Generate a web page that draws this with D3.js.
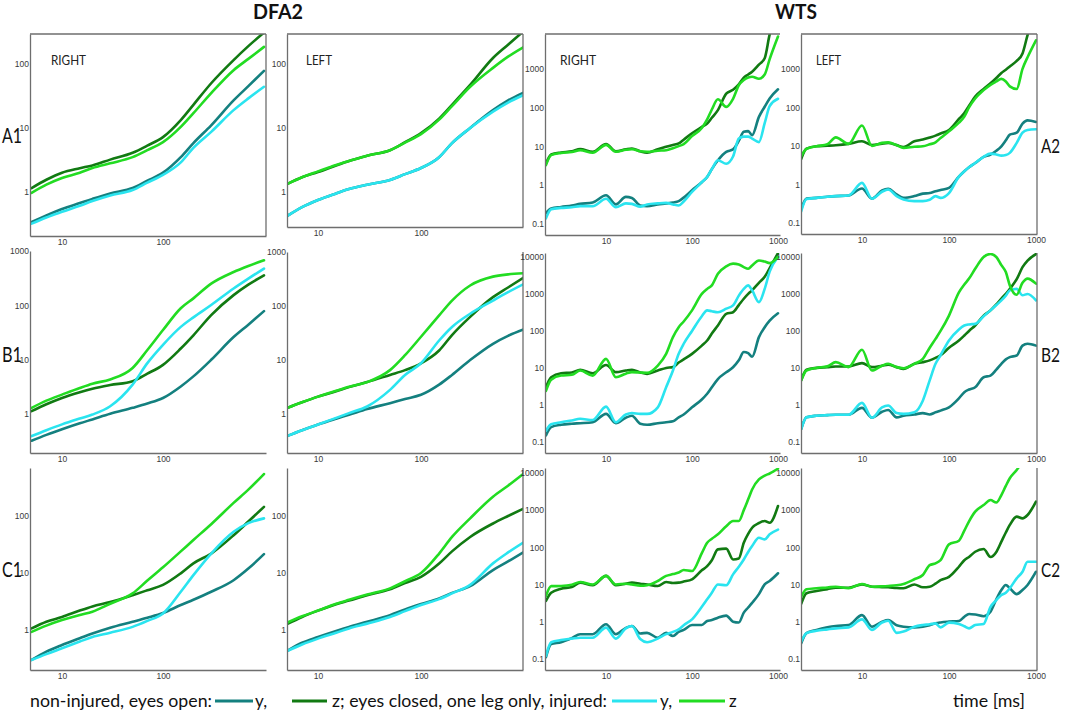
<!DOCTYPE html>
<html><head><meta charset="utf-8">
<script src="https://cdn.jsdelivr.net/npm/d3@7"></script>
<style>body{margin:0;background:#fff}</style></head>
<body><svg id="c" width="1065" height="716"></svg>
<script>
// ---------- DATA ----------
const dfaX = [5,7,10,15,20,30,50,70,100,150,200,300,500,700,1000];
const wtsX = [2,2.3,3,4,5,7,10,13,17,20,25,30,40,50,60,70,80,100,130,150,170,200,250,300,350,400,450,500,600,700,800,1000];

// DFA2 RIGHT / LEFT, rows A,B,C
const dfaA_R_y_non = [0.34,0.43,0.54,0.67,0.78,0.95,1.15,1.5,2.0,3.5,5.8,11,27,45,78];
const dfaA_R_z_non = [1.15,1.55,2.0,2.35,2.6,3.2,4.1,5.3,7.2,13.3,23,50,115,190,310];
const dfaA_R_y_inj = [0.32,0.4,0.49,0.61,0.72,0.88,1.07,1.4,1.85,2.9,4.9,8.7,19,29,44];
const dfaA_R_z_inj = [0.97,1.3,1.65,2.0,2.37,2.8,3.5,4.5,6.0,10.4,17,35,80,120,185];

const dfaA_L_y_non = [0.42,0.58,0.75,0.95,1.11,1.3,1.54,1.9,2.37,3.5,5.8,10,19,27,36];
const dfaA_L_z_non = [1.33,1.7,2.05,2.6,3.05,3.7,4.5,6,8.3,14,23,47,124,200,330];
const dfaA_L_y_inj = [0.42,0.58,0.75,0.95,1.11,1.3,1.54,1.9,2.37,3.5,5.8,10,18,25,33];
const dfaA_L_z_inj = [1.33,1.7,2.1,2.65,3.05,3.7,4.5,5.9,8.0,13.5,22,44,87,130,185];

const dfaB_R_y_non = [0.32,0.41,0.52,0.67,0.79,1.0,1.29,1.55,1.96,3.2,4.9,9.9,26,44,78];
const dfaB_R_z_non = [1.12,1.5,1.96,2.5,2.9,3.4,4.0,5.5,8,16,28,66,154,240,357];
const dfaB_R_y_inj = [0.39,0.5,0.64,0.82,0.97,1.38,3.45,8.6,18.7,40,60,101,204,310,475];
const dfaB_R_z_inj = [1.29,1.75,2.26,3.0,3.6,4.3,7,15,35,88,134,250,410,530,675];

const dfaB_L_y_non = [0.39,0.5,0.64,0.82,0.97,1.24,1.59,1.9,2.27,3.5,5.3,10,20,28,37];
const dfaB_L_z_non = [1.29,1.65,2.1,2.65,3.15,3.9,5.3,6.5,8.7,15,29,63,146,220,340];
const dfaB_L_y_inj = [0.39,0.5,0.64,0.85,1.04,1.38,2.8,5.3,8.7,23,41,72,126,180,257];
const dfaB_L_z_inj = [1.29,1.65,2.1,2.7,3.2,3.9,6.5,12.3,27,67,126,240,350,385,405];

const dfaC_R_y_non = [0.3,0.42,0.55,0.72,0.87,1.1,1.4,1.65,2.0,2.75,3.4,4.7,7.5,12,21.5];
const dfaC_R_z_non = [1.07,1.4,1.7,2.2,2.6,3.1,4.1,5.0,6.2,9.9,14.8,22,46,80,145];
const dfaC_R_y_inj = [0.3,0.38,0.48,0.63,0.76,0.9,1.14,1.45,1.96,4.7,9.2,22,53,75,91];
const dfaC_R_z_inj = [0.93,1.2,1.5,1.85,2.1,2.9,4.4,7.4,12.6,24,38,72,170,290,545];

const dfaC_L_y_non = [0.43,0.6,0.76,0.97,1.14,1.4,1.83,2.3,2.86,3.6,4.5,5.9,11.3,16,23.6];
const dfaC_L_z_non = [1.27,1.7,2.2,2.85,3.3,4.1,5.2,6.7,8.6,14.7,24,43,74,100,136];
const dfaC_L_y_inj = [0.43,0.56,0.71,0.9,1.07,1.3,1.7,2.15,2.75,3.5,4.4,6.2,14.8,23,35];
const dfaC_L_z_inj = [1.35,1.75,2.2,2.9,3.4,4.2,5.4,7.2,10,22,43,91,218,340,560];

// WTS RIGHT / LEFT, rows A,B,C
const wtsA_R_y_non = [0.19,0.25,0.275,0.3,0.33,0.36,0.55,0.32,0.5,0.47,0.3,0.29,0.32,0.34,0.36,0.39,0.48,0.74,1.2,1.64,2.6,4.4,7.3,8.4,14,24,25,19.5,58,106,174,300];
const wtsA_R_z_non = [3.6,6.2,7.0,7.5,8.6,7.3,11.5,7.5,8.5,8.9,7.5,6.9,8.5,9.8,11,12,15,22,32,39,55,87,230,290,400,600,720,850,1300,1900,7800,30000];
const wtsA_R_y_inj = [0.14,0.24,0.26,0.27,0.29,0.29,0.45,0.27,0.34,0.33,0.28,0.32,0.34,0.35,0.32,0.3,0.38,0.67,1.2,1.64,2.6,4.4,3.6,5.5,16,18,18,16,13,40,110,170];
const wtsA_R_z_inj = [3.3,6.0,6.8,7.2,8.0,6.9,11,7.3,8.2,8.5,7.5,7.3,7.8,8.0,9,10.2,11.5,18.5,30,50,90,165,105,170,380,520,600,630,560,720,1800,6900];

const wtsA_L_y_non = [0.23,0.43,0.45,0.48,0.5,0.52,0.79,0.43,0.7,0.77,0.55,0.45,0.5,0.58,0.6,0.67,0.72,0.82,1.6,2.2,2.8,3.6,5.2,6,7.5,9.8,14,19.6,22,38,46,42];
const wtsA_L_z_non = [4.6,8.5,9.8,10.1,10.4,11.3,13.2,10.6,11.5,11.9,10.5,9.4,13.2,14.6,16.5,18.5,21,26,50,71,110,190,300,420,580,780,950,1150,1600,2500,7500,30000];
const wtsA_L_y_inj = [0.2,0.42,0.45,0.48,0.5,0.52,1.1,0.43,0.65,0.74,0.5,0.41,0.37,0.37,0.4,0.5,0.45,0.6,1.6,2.2,2.8,3.6,5.2,6.3,6,5.6,5.8,6.6,12,22,26,27];
const wtsA_L_z_inj = [5.4,8.4,9.8,11,16.7,11.3,34,10,12,12.4,10.5,8.9,9.5,9.8,11,12.4,16,24,40,58,100,170,280,385,470,550,470,350,300,1000,2000,5500];

const wtsB_R_y_non = [0.15,0.25,0.29,0.31,0.32,0.34,0.57,0.32,0.45,0.51,0.31,0.29,0.32,0.34,0.36,0.46,0.55,0.86,1.4,2.0,3.0,5.0,7.6,10.4,16,27,25,20,68,126,190,300];
const wtsB_R_z_non = [3,5.6,7.2,7.5,8.9,7.2,12,7.7,8.5,8.9,7.5,6.9,8.5,10,10.5,14,17,24,40,55,85,141,290,320,500,740,1000,1250,2000,2900,5000,12700];
const wtsB_R_y_inj = [0.2,0.3,0.34,0.38,0.42,0.39,0.9,0.34,0.55,0.6,0.57,0.57,0.86,3,8.5,24,45,100,250,360,340,320,400,490,900,1370,1700,1250,600,1370,4000,10000];
const wtsB_R_z_inj = [2.4,4.8,6.2,6.5,8.5,6.2,17.6,5.6,7,7.7,7.5,7.4,11.6,24,68,126,180,360,1000,1370,1700,3500,5600,6600,6300,5300,4800,5900,8000,7500,6800,10000];

const wtsB_L_y_non = [0.22,0.46,0.51,0.53,0.54,0.54,0.83,0.45,0.65,0.73,0.46,0.51,0.55,0.6,0.55,0.63,0.7,0.86,1.5,2.2,2.6,3,5.6,6.2,9,12.9,17,19.5,21.6,40,45,40];
const wtsB_L_z_non = [4.6,8.9,10,10.5,10.9,10.9,13.5,10.5,11.5,12.3,10.5,9.4,12.9,14.3,16,18.7,22,35,55,75,100,140,260,360,520,750,1000,1370,2500,5300,8000,12000];
const wtsB_L_y_inj = [0.22,0.46,0.51,0.53,0.54,0.54,1.13,0.45,0.85,0.96,0.6,0.57,0.63,1.3,4.6,12.9,22,55,110,140,150,155,250,360,500,670,900,1250,1370,920,1000,670];
const wtsB_L_z_inj = [4.6,8.5,10,11,14.3,10.5,31,8.5,11.5,12.9,10.5,9.8,12.9,17.6,35,61,100,260,1100,1800,2600,4800,10000,12000,10000,6000,3900,1700,950,2000,2600,1900];

const wtsC_R_y_non = [0.11,0.25,0.28,0.36,0.46,0.46,0.85,0.46,0.68,0.76,0.48,0.5,0.37,0.5,0.41,0.53,0.6,0.81,0.81,1.04,1.1,1.28,1.45,1.0,0.95,1.75,2.4,3.2,5.5,10,12.4,20];
const wtsC_R_z_non = [3.6,6,7.7,8.5,11.2,9.5,17,9.5,10.5,11.2,10.5,10,9.1,11.7,11,11.2,12,13.8,24,31,45,88,92,47,50,133,230,336,450,510,457,1290];
const wtsC_R_y_inj = [0.12,0.28,0.32,0.35,0.37,0.37,0.69,0.35,0.66,0.76,0.34,0.28,0.35,0.46,0.53,0.62,0.8,1.15,2.5,3.98,6,10,9.5,18.7,30,47,75,108,180,163,223,300];
const wtsC_R_z_inj = [4.9,9,9.1,9.8,11.7,10,17,10,10.5,10,9.2,9.5,12.4,17,19,21,24.5,23,70,133,170,223,370,510,510,1000,1950,3600,6700,8500,9700,13000];

const wtsC_L_y_non = [0.26,0.49,0.6,0.7,0.76,0.81,1.5,0.73,1.0,1.1,0.8,0.73,0.7,0.73,0.8,0.9,0.95,1.0,1.04,1.35,1.6,1.55,1.4,1.86,4,7.1,9.7,7.9,5.5,7.1,9.7,22];
const wtsC_L_z_non = [3,5.8,6.7,7.5,8.2,8.2,10,8.7,8.5,8.4,8.0,7.9,10,8.4,8.7,10.5,13,16,30,45,55,76,90,55,75,142,250,400,670,600,740,1700];
const wtsC_L_y_inj = [0.29,0.49,0.57,0.62,0.66,0.7,1.15,0.6,0.95,1.06,0.5,0.54,0.73,0.81,0.85,0.9,0.7,0.94,0.87,0.75,0.66,0.81,0.87,2.5,3.8,5.2,6,7.9,14.6,22,41,41];
const wtsC_L_z_inj = [4.7,7.4,7.9,8.3,8.7,7.9,10.3,8.7,8.9,9.1,9.5,10.3,13.8,18,33,37,45,120,150,280,500,910,1370,1870,1600,2550,4500,7200,12000,20000,30000,50000];

const dfaXTicks = [10,100];
const wtsXTicks = [10,100,1000];
const yTicksA_dfa = [1,10,100];
const yTicksB_dfa = [1,10,100,1000];
const yTicksC_dfa = [1,10,100];
const yTicksA_wts = [0.1,1,10,100,1000];
const yTicksBC_wts = [0.1,1,10,100,1000,10000];

const seriesNames = ["y_non","z_non","y_inj","z_inj"];
const legendParts = ["non-injured, eyes open:", "y,", "z; eyes closed, one leg only, injured:", "y,", "z"];

// ---------- STYLE / LAYOUT ----------
const colors = {y_non:"#14807f", z_non:"#117a12", y_inj:"#2ae4ef", z_inj:"#22dc22"};
const cols = [
  {x0:30,  x1:266,  xd:[4.82,1047], xt:dfaXTicks, xs:dfaX},
  {x0:287, x1:523,  xd:[5.0,978],   xt:dfaXTicks, xs:dfaX},
  {x0:545, x1:780,  xd:[1.95,1055], xt:wtsXTicks, xs:wtsX},
  {x0:801, x1:1037, xd:[1.99,1027], xt:wtsXTicks, xs:wtsX}
];
const panels = [
  {c:0, y0:34, y1:236, yd:[0.205,294], yt:yTicksA_dfa, top:true, right:true, s:[dfaA_R_y_non,dfaA_R_z_non,dfaA_R_y_inj,dfaA_R_z_inj]},
  {c:1, y0:34, y1:227, yd:[0.284,294], yt:yTicksA_dfa, top:true, right:true, s:[dfaA_L_y_non,dfaA_L_z_non,dfaA_L_y_inj,dfaA_L_z_inj]},
  {c:2, y0:34, y1:235, yd:[0.052,8000], yt:yTicksA_wts, top:true, right:false, s:[wtsA_R_y_non,wtsA_R_z_non,wtsA_R_y_inj,wtsA_R_z_inj]},
  {c:3, y0:34, y1:234, yd:[0.052,8000], yt:yTicksA_wts, top:true, right:true, s:[wtsA_L_y_non,wtsA_L_z_non,wtsA_L_y_inj,wtsA_L_z_inj]},
  {c:0, y0:251, y1:453, yd:[0.19,1000], yt:yTicksB_dfa, s:[dfaB_R_y_non,dfaB_R_z_non,dfaB_R_y_inj,dfaB_R_z_inj]},
  {c:1, y0:252, y1:453, yd:[0.19,1000], yt:yTicksB_dfa, right:true, s:[dfaB_L_y_non,dfaB_L_z_non,dfaB_L_y_inj,dfaB_L_z_inj]},
  {c:2, y0:253, y1:453, yd:[0.05,12800], yt:yTicksBC_wts, s:[wtsB_R_y_non,wtsB_R_z_non,wtsB_R_y_inj,wtsB_R_z_inj]},
  {c:3, y0:253, y1:453, yd:[0.05,12800], yt:yTicksBC_wts, right:true, s:[wtsB_L_y_non,wtsB_L_z_non,wtsB_L_y_inj,wtsB_L_z_inj]},
  {c:0, y0:468, y1:670, yd:[0.2,695], yt:yTicksC_dfa, s:[dfaC_R_y_non,dfaC_R_z_non,dfaC_R_y_inj,dfaC_R_z_inj]},
  {c:1, y0:468, y1:670, yd:[0.2,695], yt:yTicksC_dfa, right:true, s:[dfaC_L_y_non,dfaC_L_z_non,dfaC_L_y_inj,dfaC_L_z_inj]},
  {c:2, y0:468, y1:670, yd:[0.05,13600], yt:yTicksBC_wts, s:[wtsC_R_y_non,wtsC_R_z_non,wtsC_R_y_inj,wtsC_R_z_inj]},
  {c:3, y0:468, y1:670, yd:[0.05,13600], yt:yTicksBC_wts, right:true, s:[wtsC_L_y_non,wtsC_L_z_non,wtsC_L_y_inj,wtsC_L_z_inj]}
];

const svg = d3.select("#c");
const axisColor = "#6e6e6e";
const fmt = d3.format("~g");

panels.forEach((p, i) => {
  const col = cols[p.c];
  const x = d3.scaleLog().domain(col.xd).range([col.x0, col.x1]);
  const y = d3.scaleLog().domain(p.yd).range([p.y1, p.y0]);
  const g = svg.append("g");
  const cid = "clip" + i;
  svg.append("clipPath").attr("id", cid).append("rect")
    .attr("x", col.x0).attr("y", p.y0).attr("width", col.x1 - col.x0).attr("height", p.y1 - p.y0);

  const line = d3.line().x(d => x(d[0])).y(d => y(d[1])).curve(d3.curveMonotoneX);
  const lg = g.append("g").attr("clip-path", `url(#${cid})`);
  p.s.forEach((vals, k) => {
    const pts = col.xs.map((xv, j) => [xv, vals[j]]);
    lg.append("path").attr("d", line(pts)).attr("fill", "none")
      .attr("stroke", colors[seriesNames[k]]).attr("stroke-width", 2.6)
      .attr("stroke-linejoin", "round").attr("stroke-linecap", "round");
  });

  const ax = g.append("g").attr("transform", `translate(${col.x0},0)`)
    .call(d3.axisLeft(y).tickValues(p.yt).tickSize(0).tickSizeOuter(0).tickPadding(1).tickFormat(fmt));
  const bx = g.append("g").attr("transform", `translate(0,${p.y1})`)
    .call(d3.axisBottom(x).tickValues(col.xt).tickSize(0).tickSizeOuter(0).tickPadding(3).tickFormat(fmt));
  [ax, bx].forEach(a => {
    a.select(".domain").attr("stroke", axisColor).attr("stroke-width", 1.3);
    a.selectAll("text").attr("font-family", "Liberation Sans, Arial, sans-serif")
      .attr("font-size", 8.5).attr("fill", "#3a3a3a");
  });
  if (p.top) g.append("line").attr("x1", col.x0).attr("x2", col.x1).attr("y1", p.y0).attr("y2", p.y0)
    .attr("stroke", axisColor).attr("stroke-width", 1.3);
  if (p.right) g.append("line").attr("x1", col.x1).attr("x2", col.x1).attr("y1", p.y0).attr("y2", p.y1)
    .attr("stroke", axisColor).attr("stroke-width", 1.3);
});

// ---------- TEXT ----------
const font = "Lato, 'Open Sans', sans-serif";
function txt(s, x, yb, size, opts = {}) {
  const t = svg.append("text").attr("x", x).attr("y", yb).text(s)
    .attr("font-family", font).attr("font-size", size).attr("fill", opts.fill || "#111")
    .attr("font-weight", opts.bold ? 700 : 400);
  if (opts.len) t.attr("textLength", opts.len).attr("lengthAdjust", "spacingAndGlyphs");
  if (opts.anchor) t.attr("text-anchor", opts.anchor);
  return t;
}
txt("DFA2", 253, 19, 20, {bold:true, len:50});
txt("WTS", 775, 19, 20, {bold:true, len:42});
txt("RIGHT", 51, 65, 12.5, {len:35, fill:"#222"});
txt("LEFT", 306, 65, 12.5, {len:26, fill:"#222"});
txt("RIGHT", 560, 65, 12.5, {len:36, fill:"#222"});
txt("LEFT", 816, 65, 12.5, {len:25, fill:"#222"});
txt("A1", 2, 143, 21, {len:20});
txt("B1", 2, 362, 21, {len:20});
txt("C1", 2, 577, 21, {len:20});
txt("A2", 1041, 153, 20, {len:19});
txt("B2", 1041, 362, 20, {len:19});
txt("C2", 1041, 577, 20, {len:19});

// legend
const ly = 701, lb = 707;
txt(legendParts[0], 30, lb, 17, {len:182});
svg.append("line").attr("x1",215).attr("x2",253).attr("y1",ly).attr("y2",ly).attr("stroke",colors.y_non).attr("stroke-width",3);
txt(legendParts[1], 255, lb, 17);
svg.append("line").attr("x1",292).attr("x2",327).attr("y1",ly).attr("y2",ly).attr("stroke",colors.z_non).attr("stroke-width",3);
txt(legendParts[2], 332, lb, 17, {len:275});
svg.append("line").attr("x1",612).attr("x2",657).attr("y1",ly).attr("y2",ly).attr("stroke",colors.y_inj).attr("stroke-width",3);
txt(legendParts[3], 660, lb, 17);
svg.append("line").attr("x1",679).attr("x2",725).attr("y1",ly).attr("y2",ly).attr("stroke",colors.z_inj).attr("stroke-width",3);
txt(legendParts[4], 729, lb, 17);
txt("time [ms]", 953, lb, 17, {len:72});
</script></body></html>
